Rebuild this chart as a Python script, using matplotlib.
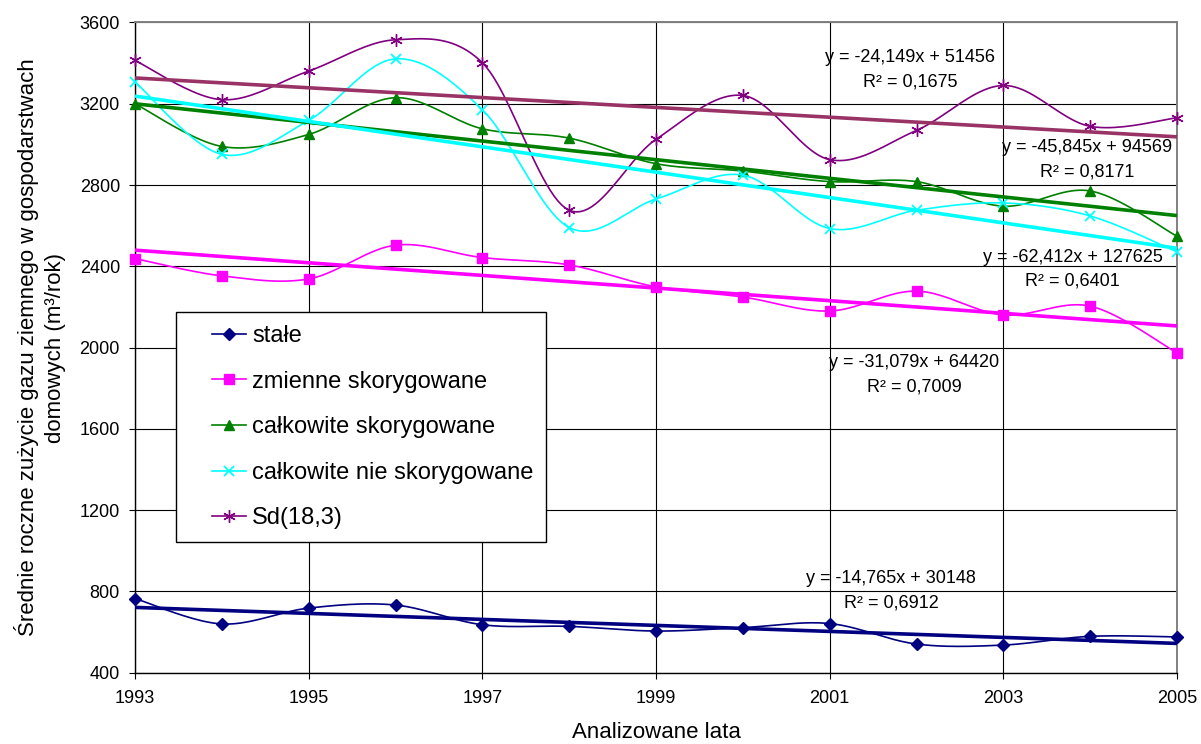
import numpy as np
import matplotlib
matplotlib.use("Agg")
import matplotlib.pyplot as plt
from matplotlib.legend_handler import HandlerLine2D

plt.rcParams['font.family'] = ['Liberation Sans', 'DejaVu Sans']

# ---------------- data ----------------
years = [1993, 1994, 1995, 1996, 1997, 1998, 1999, 2000, 2001, 2002, 2003, 2004, 2005]
stale = [765, 640, 718, 733, 636, 628, 605, 622, 642, 541, 536, 579, 576]
zmienne_skor = [2438, 2353, 2338, 2504, 2443, 2407, 2299, 2249, 2180, 2278, 2161, 2204, 1974]
calk_skor = [3200, 2990, 3049, 3230, 3077, 3031, 2905, 2869, 2817, 2817, 2696, 2771, 2548]
calk_nieskor = [3307, 2951, 3118, 3421, 3171, 2591, 2731, 2849, 2586, 2676, 2712, 2648, 2471]
sd_18_3 = [3413, 3220, 3361, 3515, 3402, 2676, 3025, 3241, 2925, 3069, 3290, 3089, 3131]

series_labels = ['stałe', 'zmienne skorygowane', 'całkowite skorygowane',
                 'całkowite nie skorygowane', 'Sd(18,3)']

trend_slope = [-14.765, -31.079, -45.845, -62.412, -24.149]
trend_intercept = [30148, 64420, 94569, 127625, 51456]
trend_r2 = ['0,6912', '0,7009', '0,8171', '0,6401', '0,1675']

x_ticks = [1993, 1995, 1997, 1999, 2001, 2003, 2005]
y_ticks = [400, 800, 1200, 1600, 2000, 2400, 2800, 3200, 3600]

# ---------------- styles ----------------
series_colors = ['#000080', '#FF00FF', '#008000', '#00FFFF', '#800080']
trend_colors = ['#000080', '#FF00FF', '#008000', '#00FFFF', '#993366']
markers = ['D', 's', '^', 'x', (6, 2, 0)]
msizes = [6, 6.5, 7, 7.5, 9]
# trend label centre positions (data coords)
label_pos = [(2001.71, 803), (2001.97, 1865), (2003.96, 2924), (2003.80, 2386), (2001.93, 3369)]


def smooth(x, y, n=24):
    P = np.column_stack([np.asarray(x, float), np.asarray(y, float)])
    E = np.vstack([P[0], P, P[-1]])
    out = []
    t = np.linspace(0, 1, n)[:, None]
    for i in range(len(P) - 1):
        p0, p1, p2, p3 = E[i], E[i + 1], E[i + 2], E[i + 3]
        c1 = p1 + (p2 - p0) / 6.0
        c2 = p2 - (p3 - p1) / 6.0
        seg = (1 - t) ** 3 * p1 + 3 * (1 - t) ** 2 * t * c1 + 3 * (1 - t) * t ** 2 * c2 + t ** 3 * p2
        out.append(seg if i == 0 else seg[1:])
    return np.vstack(out), n - 1


W, H = 1201, 744
fig = plt.figure(figsize=(W / 100, H / 100), dpi=100)
L, R, T, B = 135, 1177, 22.5, 672.7
ax = fig.add_axes([L / W, 1 - B / H, (R - L) / W, (B - T) / H])

all_series = [stale, zmienne_skor, calk_skor, calk_nieskor, sd_18_3]
handles = []
for vals, lab, col, mk, ms in zip(all_series, series_labels, series_colors, markers, msizes):
    pts, step = smooth(years, vals)
    mkw = 1.3 if mk in ('x',) else 1.0
    ln, = ax.plot(pts[:, 0], pts[:, 1], color=col, lw=1.2, marker=mk, ms=ms,
                  markevery=list(range(0, len(pts), step)), mfc=col, mec=col, mew=mkw,
                  label=lab, clip_on=False, zorder=3)
    handles.append(ln)

xr = np.array([years[0], years[-1]], float)
for s, b, r2, col, (lx, ly) in zip(trend_slope, trend_intercept, trend_r2, trend_colors, label_pos):
    ax.plot(xr, s * xr + b, color=col, lw=2.6, zorder=4, solid_capstyle='butt', clip_on=False)
    txt = 'y = {}x + {}\nR² = {}'.format(('%.3f' % s).replace('.', ','), b, r2)
    ax.text(lx, ly, txt, ha='center', va='center', multialignment='center',
            fontsize=13, color='black', linespacing=1.55, zorder=5)

ax.set_xlim(1993, 2005)
ax.set_ylim(400, 3600)
ax.set_xticks(x_ticks)
ax.set_yticks(y_ticks)
ax.tick_params(axis='both', direction='out', length=4.3, width=0.8, colors='black', labelsize=13)
ax.tick_params(axis='y', pad=6.5)
ax.tick_params(axis='x', pad=8)
ax.grid(True, color='black', lw=0.8, zorder=1)
ax.set_axisbelow(True)
for sp in ('left', 'bottom'):
    ax.spines[sp].set_color('black')
    ax.spines[sp].set_linewidth(1.0)
for sp in ('top', 'right'):
    ax.spines[sp].set_color('#808080')
    ax.spines[sp].set_linewidth(1.4)

fs_leg = 17
leg = ax.legend(handles=handles, loc='upper left',
                bbox_to_anchor=((176 - L) / (R - L), (B - 312) / (B - T)),
                borderaxespad=0, fontsize=fs_leg, frameon=True, fancybox=False,
                edgecolor='black', framealpha=1, borderpad=0.55, labelspacing=1.0,
                handlelength=2.42, handletextpad=0.25, numpoints=1,
                handler_map={h: HandlerLine2D(xpad=0.96) for h in handles})
leg.get_frame().set_linewidth(1.0)
leg.set_zorder(10)

fig.text(656 / W, 1 - 733 / H, 'Analizowane lata', ha='center', va='center', fontsize=16)
fig.text(40 / W, 1 - 347.6 / H,
         'Średnie roczne zużycie gazu ziemnego w gospodarstwach\ndomowych (m³/rok)',
         ha='center', va='center', rotation=90, multialignment='center',
         fontsize=16, linespacing=1.4)

fig.savefig('out.png', dpi=100, facecolor='white')
